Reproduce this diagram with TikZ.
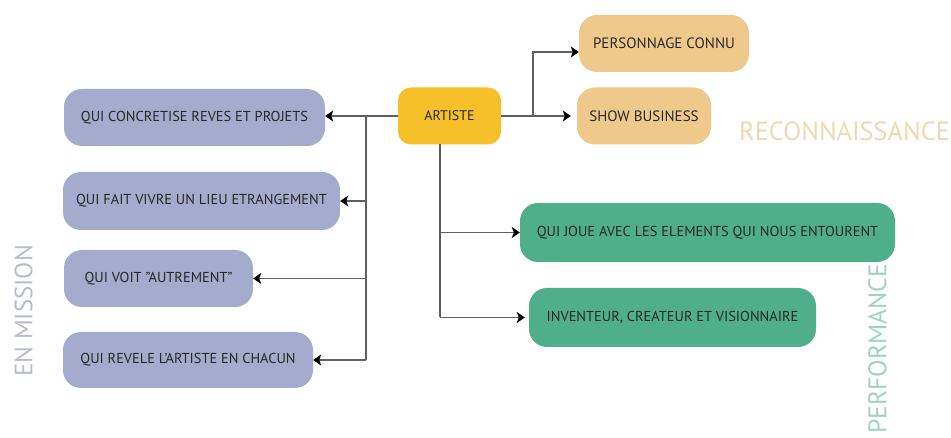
\documentclass[tikz,border=0pt]{standalone}
\usepackage{fontspec}
\setmainfont{PT Sans}
\usetikzlibrary{arrows.meta}
\definecolor{lav}{RGB}{164,171,204}
\definecolor{gold}{RGB}{246,192,42}
\definecolor{peach}{RGB}{239,201,140}
\definecolor{grn}{RGB}{78,175,138}
\definecolor{txt}{RGB}{40,40,40}
\definecolor{linegray}{RGB}{95,95,95}
\definecolor{recocol}{RGB}{240,217,176}
\definecolor{perfcol}{RGB}{160,210,194}
\definecolor{misscol}{RGB}{184,188,207}
\begin{document}
\begin{tikzpicture}[x=1pt,y=-1pt,
  box/.style={rounded corners=18pt, minimum height=57pt, inner sep=0pt, text=txt,
    font=\fontsize{14.4}{16}\selectfont},
  lavbox/.style={box, fill=lav},
  grnbox/.style={box, fill=grn, minimum height=59pt},
  pchbox/.style={box, fill=peach, font=\fontsize{15}{17}\selectfont},
  artbox/.style={box, fill=gold, rounded corners=13pt, font=\fontsize{14}{16}\selectfont},
  biglabel/.style={inner sep=0pt, font=\fontsize{26.3}{28}\selectfont},
  conn/.style={draw=linegray, line width=1.6pt},
  arr/.style={conn, -{Stealth[length=8pt,width=11pt,inset=2pt,color=black]}}]
\useasboundingbox[fill=white] (0,0) rectangle (951,438);

% centre
\node[artbox, minimum width=103pt] (art) at (449.5,116) {ARTISTE};

% left branch
\node[lavbox, minimum width=261pt] (b1) at (194.5,117.5) {QUI CONCRETISE REVES ET PROJETS};
\node[lavbox, minimum width=277pt, minimum height=58pt] (b2) at (201.5,201) {QUI FAIT VIVRE UN LIEU ETRANGEMENT};
\node[lavbox, minimum width=189pt] (b3) at (158.5,278.5) {QUI VOIT \symbol{34}AUTREMENT\symbol{34}};
\node[lavbox, minimum width=250pt, minimum height=56pt] (b4) at (188,360) {QUI REVELE L\symbol{39}ARTISTE EN CHACUN};

% right-top branch
\node[pchbox, minimum width=170pt] (p1) at (664,43.5) {PERSONNAGE CONNU};
\node[pchbox, minimum width=134pt] (p2) at (644,116) {SHOW BUSINESS};

% right-bottom branch
\node[grnbox, minimum width=375pt] (g1) at (707.5,232.5) {QUI JOUE AVEC LES ELEMENTS QUI NOUS ENTOURENT};
\node[grnbox, minimum width=287pt] (g2) at (672.5,317.5) {INVENTEUR, CREATEUR ET VISIONNAIRE};

% labels
\node[biglabel, text=recocol, anchor=west] (reco) at (739,131) {RECONNAISSANCE};
\node[biglabel, text=misscol, rotate=90, font=\fontsize{25}{27}\selectfont] (miss) at (23.5,311) {EN MISSION};
\node[biglabel, text=perfcol, rotate=90, font=\fontsize{25.5}{27}\selectfont] (perf) at (877.5,349) {PERFORMANCE};

% connectors left
\coordinate (jl) at (366,117);
\draw[arr] (art.west) -- (art.west -| b1.east);
\draw[conn] (jl) -- (jl |- b4.east);
\draw[arr] (jl |- b2.east) -- (b2.east);
\draw[arr] (jl |- b3.east) -- (b3.east);
\draw[arr] (jl |- b4.east) -- (b4.east);

% connectors bottom
\coordinate (jb) at (440,144.5);
\draw[conn] (jb) -- (jb |- g2.west);
\draw[arr] (jb |- g1.west) -- (g1.west);
\draw[arr,shorten >=4pt] (jb |- g2.west) -- (g2.west);

% connectors right
\coordinate (jr) at (533,116);
\coordinate (jt) at (533,52);
\draw[conn] (art.east) -- (jr);
\draw[arr,shorten >=6pt] (jr) -- (jr -| p2.west);
\draw[arr] (jr) -- (jt) -- (jt -| p1.west);
\end{tikzpicture}
\end{document}
